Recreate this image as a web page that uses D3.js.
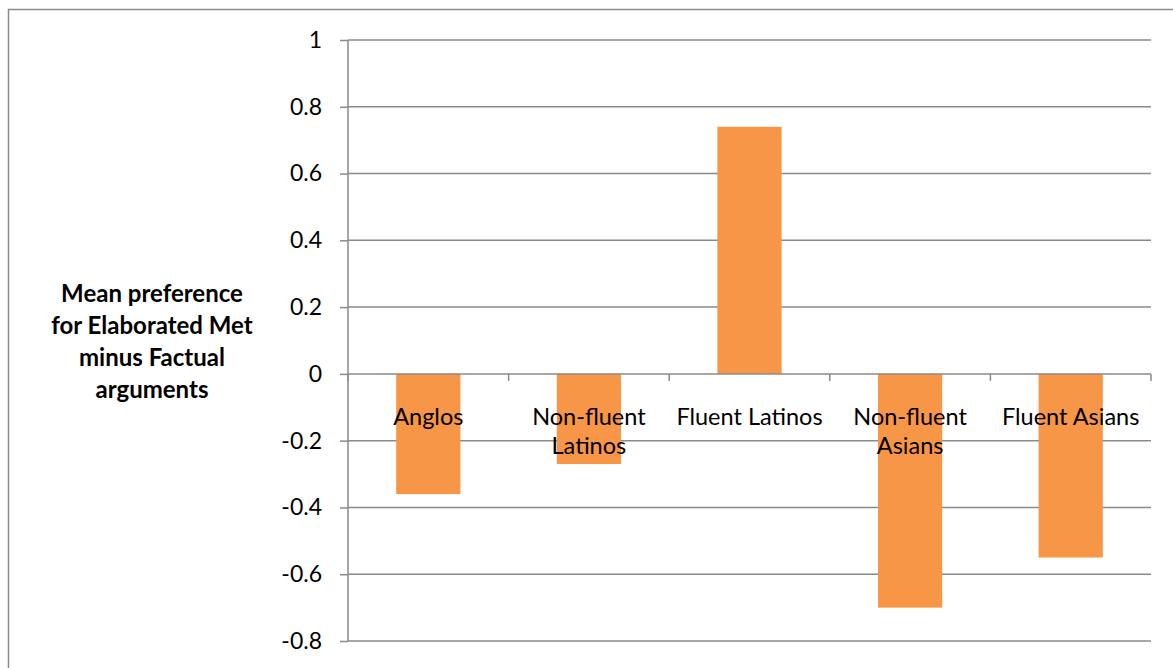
<!DOCTYPE html>
<html>
<head>
<meta charset="utf-8">
<script src="https://cdn.jsdelivr.net/npm/d3@7"></script>
<style>
  html, body { margin: 0; padding: 0; background: #fff; }
  svg { display: block; }
  text { font-family: Lato, "Open Sans", sans-serif; fill: #000; }
</style>
</head>
<body>
<svg id="chart" width="1173" height="668"></svg>
<script>
const categories = ["Anglos", "Non-fluent Latinos", "Fluent Latinos", "Non-fluent Asians", "Fluent Asians"];
const values = [-0.36, -0.27, 0.74, -0.70, -0.55];
const yTicks = [1, 0.8, 0.6, 0.4, 0.2, 0, -0.2, -0.4, -0.6, -0.8];
const yTitleLines = ["Mean preference", "for Elaborated Met", "minus Factual", "arguments"];

const svg = d3.select("#chart");
const gridColor = "#8a8a8a";
const barColor = "#F79646";

// outer frame
svg.append("rect").attr("x", 8.5).attr("y", 9.5).attr("width", 1200).attr("height", 700)
  .attr("fill", "#fff").attr("stroke", gridColor).attr("stroke-width", 1.5);

const plot = { left: 348, right: 1151, top: 40, bottom: 641 };

const y = d3.scaleLinear().domain([-0.8, 1]).range([plot.bottom, plot.top]);
const x = d3.scaleBand().domain(categories).range([plot.left, plot.right]).padding(0);
const bw = x.bandwidth();

const fmt = d => String(Math.round(d * 10) / 10).replace("\u2212", "-");

// y axis
const yAxis = d3.axisLeft(y).tickValues(yTicks).tickSize(8).tickPadding(18).tickFormat(fmt);
const gy = svg.append("g").attr("transform", `translate(${plot.left},0)`).call(yAxis);
gy.select(".domain").attr("stroke", gridColor).attr("stroke-width", 1.5)
  .attr("d", `M0,${plot.top}V${plot.bottom}`);
gy.selectAll(".tick line").attr("stroke", gridColor).attr("stroke-width", 1.5);
gy.selectAll(".tick text").attr("font-size", 23).attr("fill", "#000")
  .attr("font-family", "Lato, 'Open Sans', sans-serif");

// horizontal gridlines
svg.append("g").selectAll("line").data(yTicks.filter(d => d !== 0)).join("line")
  .attr("x1", plot.left).attr("x2", plot.right)
  .attr("y1", d => y(d)).attr("y2", d => y(d))
  .attr("stroke", gridColor).attr("stroke-width", 1.5);

// bars
svg.append("g").selectAll("rect").data(categories).join("rect")
  .attr("x", d => x(d) + bw * 0.3)
  .attr("width", bw * 0.4)
  .attr("y", (d, i) => Math.min(y(values[i]), y(0)))
  .attr("height", (d, i) => Math.abs(y(values[i]) - y(0)))
  .attr("fill", barColor);

// category axis at zero
const gx = svg.append("g");
gx.append("line").attr("x1", plot.left).attr("x2", plot.right)
  .attr("y1", y(0)).attr("y2", y(0)).attr("stroke", gridColor).attr("stroke-width", 1.5);
const boundaries = categories.map(c => x(c)).concat([x(categories[categories.length - 1]) + bw]);
gx.selectAll("line.tk").data(boundaries).join("line").attr("class", "tk")
  .attr("x1", d => d).attr("x2", d => d)
  .attr("y1", y(0)).attr("y2", y(0) + 7)
  .attr("stroke", gridColor).attr("stroke-width", 1.5);

// category labels with wrapping
const labelG = svg.append("g");
categories.forEach(c => {
  const cx = x(c) + bw / 2;
  const t = labelG.append("text").attr("x", cx).attr("y", 425)
    .attr("text-anchor", "middle").attr("font-size", 23.5);
  const words = c.split(" ");
  let line = [];
  let tspan = t.append("tspan").attr("x", cx).attr("dy", 0);
  words.forEach(w => {
    line.push(w);
    tspan.text(line.join(" "));
    if (tspan.node().getComputedTextLength() > bw - 4 && line.length > 1) {
      line.pop();
      tspan.text(line.join(" "));
      line = [w];
      tspan = t.append("tspan").attr("x", cx).attr("dy", 29).text(w);
    }
  });
});

// y axis title
const tt = svg.append("text").attr("text-anchor", "middle").attr("font-size", 24)
  .attr("font-weight", "bold");
yTitleLines.forEach((l, i) => {
  tt.append("tspan").attr("x", 152).attr("y", 302 + i * 32).text(l);
});
</script>
</body>
</html>
